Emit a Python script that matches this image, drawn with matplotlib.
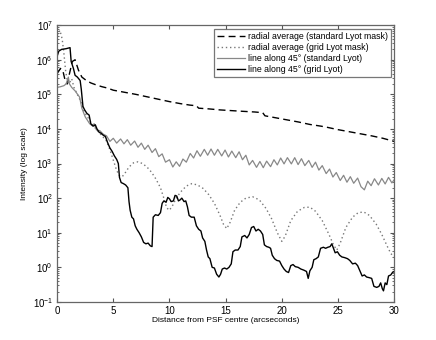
import numpy as np
import matplotlib
matplotlib.use("Agg")
import matplotlib.pyplot as plt
from matplotlib.ticker import FixedLocator, NullFormatter, MultipleLocator


# radial average (standard Lyot mask): (arcsec, log10 intensity)
std_avg_x = [0, 0.3, 0.5, 0.75, 0.9, 1.1, 1.35, 1.6, 1.9, 2.2, 2.6, 3.0, 3.5,
             4.0, 4.5, 5.0, 6.0, 6.5, 7.0, 8.0, 9.0, 10.0, 11.0, 11.8, 12.4,
             12.6, 13.5, 14.5, 15.5, 16.5, 17.6, 18.3, 18.5, 19.5, 20.5, 21.5,
             22.5, 23.5, 24.0, 25.0, 26.0, 27.0, 28.0, 29.0, 30.0]
std_avg_y = [5.6, 5.75, 5.7, 5.35, 5.3, 5.6, 5.95, 6.0, 5.7, 5.5, 5.4, 5.33,
             5.27, 5.22, 5.18, 5.12, 5.06, 5.03, 5.0, 4.93, 4.86, 4.79, 4.73,
             4.69, 4.67, 4.6, 4.58, 4.55, 4.53, 4.51, 4.49, 4.47, 4.38, 4.32,
             4.26, 4.2, 4.13, 4.08, 4.05, 3.98, 3.92, 3.86, 3.8, 3.73, 3.64]

# radial average (grid Lyot mask)
grid_avg_x = [0, 0.25, 0.45, 0.6, 0.75, 0.9, 1.05, 1.3, 1.5, 1.8, 2.1, 2.4,
              2.8, 3.2, 3.6, 4.0, 4.4, 4.7, 5.0, 5.3, 5.55, 5.8, 6.1, 6.4, 6.8,
              7.2, 7.6, 8.0, 8.4, 8.8, 9.2, 9.5, 9.75, 10.0, 10.3, 10.6, 11.0,
              11.5, 12.0, 12.5, 13.0, 13.5, 14.0, 14.5, 14.8, 15.1, 15.4, 15.8,
              16.3, 16.8, 17.4, 18.0, 18.6, 19.1, 19.6, 20.0, 20.3, 20.8, 21.4,
              22.0, 22.5, 23.0, 23.6, 24.2, 24.6, 24.9, 25.2, 25.7, 26.3, 26.8,
              27.3, 27.8, 28.4, 28.9, 29.4, 29.7, 30.0]
grid_avg_y = [6.7, 6.85, 6.6, 6.2, 5.7, 5.4, 5.3, 5.45, 5.2, 5.0, 4.8, 4.5,
              4.3, 4.1, 3.95, 3.8, 3.65, 3.4, 3.1, 2.8, 2.65, 2.62, 2.75, 2.9,
              3.02, 3.05, 3.0, 2.9, 2.75, 2.55, 2.3, 2.0, 1.72, 1.65, 1.8, 2.0,
              2.18, 2.35, 2.42, 2.38, 2.28, 2.1, 1.85, 1.5, 1.25, 1.12, 1.3,
              1.65, 1.88, 2.0, 2.04, 1.95, 1.7, 1.4, 1.0, 0.75, 0.9, 1.35, 1.62,
              1.73, 1.74, 1.62, 1.35, 0.95, 0.65, 0.5, 0.7, 1.15, 1.45, 1.58,
              1.6, 1.5, 1.25, 0.95, 0.6, 0.4, 0.3]

# line along 45 deg (standard Lyot)
std_line_x = [0, 0.3, 0.6, 0.8, 1.0, 1.1, 1.3, 1.6, 2.0, 2.2, 2.5, 2.7, 2.9,
              3.1, 3.3, 3.5, 3.8, 4.1,
              4.4, 4.7, 5.0, 5.3, 5.65, 5.95, 6.25, 6.55, 6.9, 7.2, 7.5, 7.8,
              8.1, 8.45, 8.75, 9.05, 9.35, 9.65, 10.0, 10.3, 10.6, 10.9, 11.2,
              11.5, 11.85, 12.15, 12.45, 12.75, 13.1, 13.4, 13.7, 14.0, 14.3,
              14.65, 14.95, 15.25, 15.55, 15.9, 16.2, 16.5, 16.8, 17.1, 17.4,
              17.75, 18.05, 18.35, 18.65, 19.0, 19.3, 19.6, 19.9, 20.2, 20.5,
              20.85, 21.15, 21.45, 21.75, 22.05, 22.4, 22.7, 23.0, 23.3, 23.6,
              23.95, 24.25, 24.55, 24.85, 25.2, 25.5, 25.8, 26.1, 26.4, 26.75,
              27.05, 27.35, 27.65, 27.95, 28.25, 28.6, 28.9, 29.2, 29.5, 29.8,
              30.0]
std_line_y = [5.2, 5.22, 5.25, 5.3, 5.5, 5.3, 5.2, 5.1, 4.92, 4.6, 4.35, 4.25,
              4.15, 4.1, 4.15, 3.97, 3.95, 3.85,
              3.80, 3.64, 3.73, 3.59, 3.71, 3.57, 3.69, 3.53, 3.65, 3.47, 3.59,
              3.41, 3.53, 3.32, 3.43, 3.20, 3.28, 3.04, 3.11, 2.90, 3.05, 2.92,
              3.13, 3.04, 3.29, 3.16, 3.37, 3.21, 3.41, 3.24, 3.42, 3.24, 3.41,
              3.22, 3.39, 3.19, 3.36, 3.17, 3.34, 3.11, 3.24, 2.96, 3.09, 2.89,
              3.06, 2.88, 3.07, 2.91, 3.11, 2.96, 3.16, 2.99, 3.17, 2.99, 3.17,
              2.97, 3.14, 2.94, 3.09, 2.89, 3.04, 2.81, 2.94, 2.71, 2.84, 2.61,
              2.74, 2.51, 2.66, 2.46, 2.62, 2.43, 2.58, 2.33, 2.24, 2.49, 2.36,
              2.56, 2.38, 2.57, 2.41, 2.60, 2.44, 2.53]

# line along 45 deg (grid Lyot)
grid_line_x = [0, 0.15, 0.4, 0.8, 1.15, 1.25, 1.45, 1.6, 1.8, 2.05, 2.15, 2.3,
               2.45, 2.65, 2.85, 3.0, 3.2, 3.4, 3.55, 3.75, 3.9, 4.1, 4.3, 4.5,
               4.7, 4.9, 5.1, 5.3, 5.45, 5.55, 5.7, 5.9, 6.1, 6.3, 6.4, 6.5,
               6.65, 6.8, 6.95, 7.1, 7.3, 7.5, 7.7, 7.9, 8.1, 8.3, 8.45, 8.55,
               8.75, 9.0, 9.2, 9.35, 9.5, 9.7, 9.85, 10.0, 10.15, 10.35, 10.5,
               10.65, 10.8, 10.95, 11.1, 11.3, 11.45, 11.6, 11.75, 11.95, 12.2,
               12.4, 12.6, 12.8, 12.95, 13.15, 13.3, 13.45, 13.6, 13.8, 14.0,
               14.2, 14.4, 14.55, 14.7, 14.9, 15.1, 15.3, 15.5, 15.65, 15.85,
               16.1, 16.3, 16.45, 16.7, 16.9, 17.1, 17.3, 17.5, 17.7, 17.9,
               18.1, 18.3, 18.45, 18.65, 18.85, 19.0, 19.15, 19.35, 19.55, 19.8,
               20.0, 20.2, 20.4, 20.6, 20.8, 21.0, 21.2, 21.45, 21.7, 21.95,
               22.2, 22.35, 22.5, 22.7, 22.85, 23.05, 23.25, 23.45, 23.7, 23.9,
               24.1, 24.3, 24.45, 24.6, 24.75, 24.95, 25.15, 25.35, 25.6, 25.85,
               26.05, 26.3, 26.55, 26.75, 26.95, 27.15, 27.35, 27.55, 27.8, 28.0,
               28.2, 28.45, 28.65, 28.8, 28.95, 29.05, 29.2, 29.35, 29.5, 29.7,
               29.85, 30.0]
grid_line_y = [6.1, 6.25, 6.3, 6.32, 6.35, 5.95, 5.75, 5.55, 5.5, 5.4, 5.15,
               4.65, 4.55, 4.45, 4.4, 4.15, 4.08, 4.12, 4.0, 3.9, 3.88, 3.82,
               3.78, 3.6, 3.45, 3.35, 3.22, 3.12, 3.0, 2.6, 2.45, 2.42, 2.38,
               2.3, 1.9, 1.65, 1.45, 1.4, 1.2, 1.1, 1.0, 0.88, 0.72, 0.68, 0.7,
               0.62, 0.6, 1.45, 1.52, 1.5, 1.58, 1.85, 1.92, 1.88, 2.02, 1.98,
               1.9, 1.92, 2.08, 2.06, 1.92, 1.95, 2.0, 1.9, 1.92, 1.75, 1.5,
               1.45, 1.45, 1.2, 1.1, 1.05, 0.85, 0.75, 0.5, 0.3, 0.25, 0.0,
               -0.02, -0.2, -0.28, -0.2, -0.05, -0.02, -0.05, 0.0, 0.1, 0.45,
               0.5, 0.5, 0.6, 0.88, 0.92, 0.85, 0.95, 1.15, 1.18, 1.05, 1.1,
               1.05, 0.95, 0.65, 0.6, 0.58, 0.55, 0.35, 0.25, 0.2, 0.18, 0.05,
               -0.05, -0.12, -0.15, 0.05, 0.08, 0.02, 0.0, -0.05, -0.08, -0.12,
               -0.32, -0.1, 0.0, 0.22, 0.25, 0.3, 0.55, 0.58, 0.55, 0.58, 0.6,
               0.68, 0.55, 0.42, 0.45, 0.35, 0.3, 0.28, 0.25, 0.2, 0.1, 0.12,
               0.05, -0.1, -0.25, -0.22, -0.28, -0.3, -0.32, -0.55, -0.58,
               -0.55, -0.45, -0.62, -0.68, -0.45, -0.5, -0.25, -0.22, -0.15,
               -0.12]

labels = ["radial average (standard Lyot mask)",
          "radial average (grid Lyot mask)",
          "line along 45\u00b0 (standard Lyot)",
          "line along 45\u00b0 (grid Lyot)"]

decades = list(range(-1, 8))

plt.rcParams["font.family"] = ["Liberation Sans", "DejaVu Sans"]
plt.rcParams["mathtext.fontset"] = "custom"
plt.rcParams["mathtext.rm"] = "Liberation Sans"

fig = plt.figure(figsize=(4.36, 3.40), dpi=100)
ax = fig.add_axes([0.131, 0.112, 0.773, 0.814])

ax.semilogy(std_avg_x, 10 ** np.array(std_avg_y), color="black",
            linestyle=(0, (5, 3)), linewidth=1.0, label=labels[0])
ax.semilogy(grid_avg_x, 10 ** np.array(grid_avg_y), color="#777777",
            linestyle=(0, (1, 2)), linewidth=1.0, label=labels[1])
ax.semilogy(std_line_x, 10 ** np.array(std_line_y), color="#888888",
            linewidth=0.9, label=labels[2])
ax.semilogy(grid_line_x, 10 ** np.array(grid_line_y), color="black",
            linewidth=1.0, label=labels[3])

ax.set_xlim(0, 30)
ax.set_ylim(1e-1, 1e7)
ax.xaxis.set_major_locator(MultipleLocator(5))
ax.yaxis.set_major_locator(FixedLocator([10.0 ** d for d in decades]))
minors = [m * 10.0 ** d for d in decades[:-1] for m in range(2, 10)]
ax.yaxis.set_minor_locator(FixedLocator(minors))
ax.yaxis.set_minor_formatter(NullFormatter())
ax.set_yticklabels([f"$10^{{{d}}}$" for d in decades])
ax.tick_params(which="both", direction="in", top=True, right=True,
               labelsize=7, color="#555555", pad=3)
ax.tick_params(which="major", length=3)
ax.tick_params(which="minor", length=1.5)
for s in ax.spines.values():
    s.set_color("#666666")
    s.set_linewidth(0.9)

ax.set_xlabel("Distance from PSF centre (arcseconds)", fontsize=6, labelpad=1)
ax.set_ylabel("Intensity (log scale)", fontsize=6, labelpad=3)

leg = ax.legend(loc="upper right", fontsize=6.3, frameon=True, fancybox=False,
                handlelength=3.2, borderpad=0.35, labelspacing=0.25,
                handletextpad=0.3, borderaxespad=0.4)
leg.get_frame().set_edgecolor("#555555")
leg.get_frame().set_linewidth(0.9)

fig.savefig("out.png", dpi=100)
